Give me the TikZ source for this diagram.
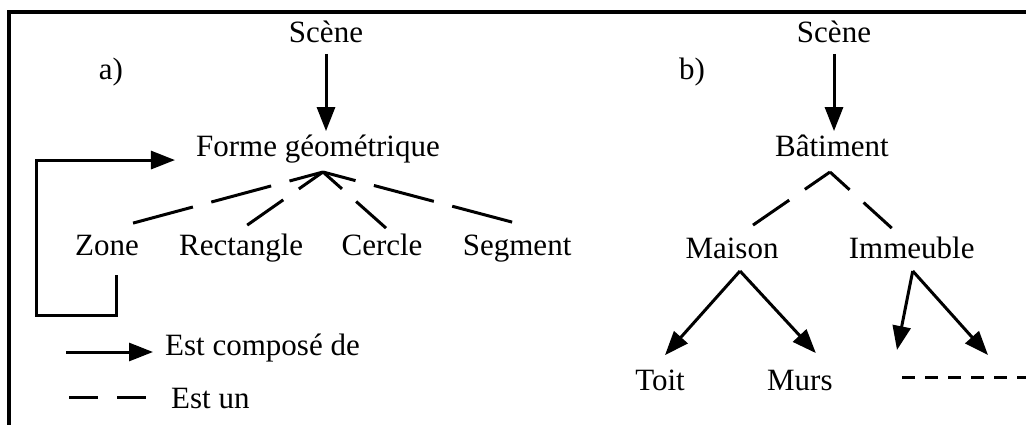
\documentclass[tikz,border=0pt]{standalone}
\usepackage{fontspec}
\setmainfont{Liberation Serif}
\usetikzlibrary{arrows.meta, positioning}

\begin{document}
\begin{tikzpicture}[
    x=1pt, y=-1pt,
    lbl/.style={
        font=\fontsize{31}{36}\selectfont,
        inner xsep=0pt, inner ysep=4pt,
        text height=21.7pt, text depth=6.8pt,
        anchor=base,
    },
    arr/.style={-{Triangle[length=24pt, width=18pt]}, line width=3pt},
    isa/.style={line width=3pt, dash pattern=on #1 off 19pt},
    isa/.default=62pt,
    frame/.style={line width=3.5pt},
]
\useasboundingbox (0,0) rectangle (1026,425);

% === Frame ===
\draw[frame] (1026,12) -- (9,12) -- (9,425);

% === a) Geometric shapes ===
\node[lbl] (laba) at (111,80) {a)};
\node[lbl] (scenea) at (326,43) {Scène};
\node[lbl] (forme) at (318,157) {Forme géométrique};
\node[lbl] (zone) at (107,255) {Zone};
\node[lbl, right=40pt of zone] (rect) {Rectangle};
\node[lbl, right=38pt of rect] (cercle) {Cercle};
\node[lbl, right=40pt of cercle] (segment) {Segment};

\draw[arr] (scenea.south) -- (scenea.south |- forme.north);

% Is-a links
\coordinate (fapex) at ([xshift=5pt, yshift=-4pt]forme.south);
\draw[isa] ([xshift=-6pt, yshift=6pt]zone.north east) -- (fapex);
\draw[isa=44pt] ([xshift=6pt, yshift=4pt]rect.north) -- (fapex);
\draw[isa=40pt] ([xshift=4pt, yshift=1pt]cercle.north) -- (fapex);
\draw[isa] ([xshift=-5pt, yshift=7pt]segment.north) -- (fapex);

% Zone is made of shapes
\coordinate (loopc) at (36,315);
\draw[arr] ([xshift=9pt, yshift=-9pt]zone.south) |- (loopc)
    |- ([xshift=-21pt, yshift=-10.5pt]forme.west);

% Legend
\node[lbl, anchor=base west] (lgcomp) at (165,355) {Est composé de};
\node[lbl, anchor=base west] (lgisa) at (171,408) {Est un};
\coordinate (lgcompa) at (66,352);
\coordinate (lgisaa) at (69,397);
\draw[arr, shorten >=12pt] (lgcompa) -- (lgcompa -| lgcomp.west);
\draw[isa=29pt, shorten >=24pt] (lgisaa) -- (lgisaa -| lgisa.west);

% === b) Buildings ===
\node[lbl] (labb) at (692,80) {b)};
\node[lbl] (sceneb) at (834,43) {Scène};
\node[lbl] (bat) at (832,157) {Bâtiment};
\node[lbl] (maison) at (732,258) {Maison};
\node[lbl, right=70pt of maison] (immeuble) {Immeuble};
\node[lbl] (toit) at (660,390) {Toit};
\node[lbl, right=82pt of toit] (murs) {Murs};

\draw[arr] (sceneb.south) -- (sceneb.south |- bat.north);

\coordinate (bapex) at ([xshift=-2pt, yshift=-4pt]bat.south);
\draw[isa=44pt] ([xshift=21pt, yshift=7pt]maison.north) -- (bapex);
\draw[isa=38pt] ([xshift=-20pt, yshift=4pt]immeuble.north) -- (bapex);

\draw[arr] ([xshift=8pt, yshift=-2pt]maison.south) -- ([xshift=5pt, yshift=9pt]toit.north);
\draw[arr] ([xshift=8pt, yshift=-2pt]maison.south) -- ([xshift=16pt, yshift=11pt]murs.north);

\coordinate (imma) at (897,350);
\coordinate (immb) at (988,355);
\draw[arr] ([xshift=1pt, yshift=-2pt]immeuble.south) -- (imma);
\draw[arr] ([xshift=1pt, yshift=-2pt]immeuble.south) -- (immb);

\coordinate (etca) at (902,377);
\coordinate (etcb) at (1026,377);
\draw[line width=3pt, dash pattern=on 13pt off 10pt] (etca) -- (etcb);

\end{tikzpicture}
\end{document}
